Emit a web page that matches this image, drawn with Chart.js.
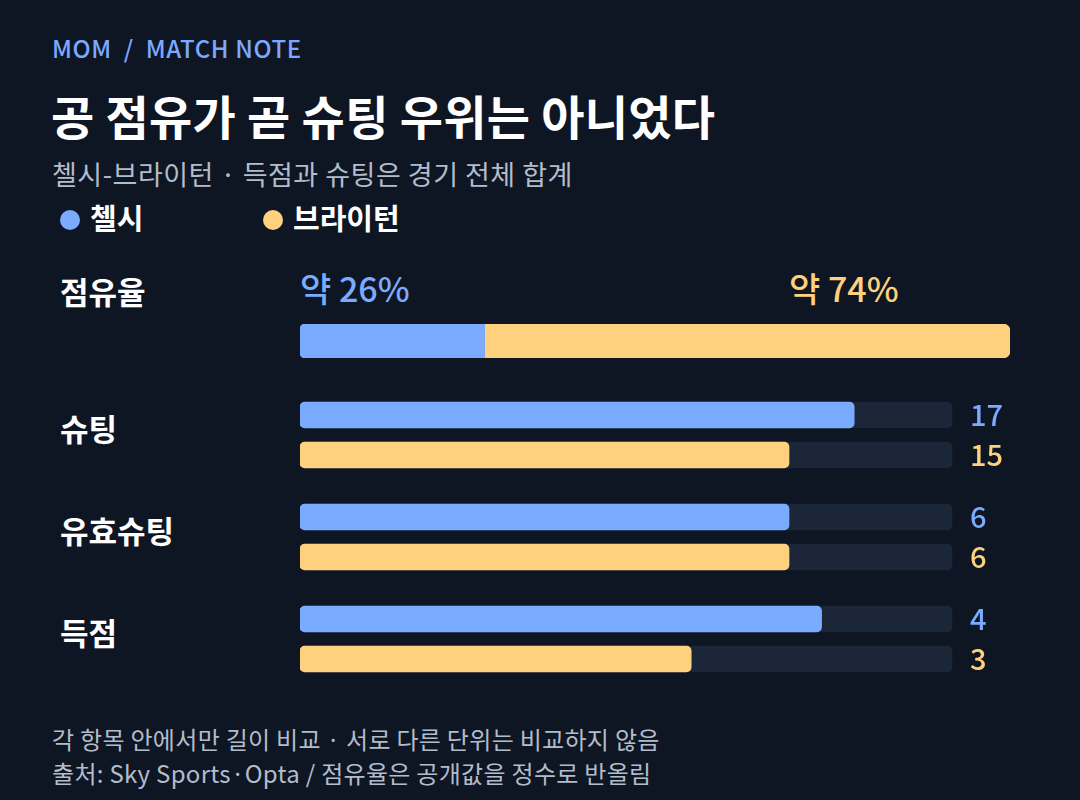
<!DOCTYPE html>
<html>
<head>
<meta charset="utf-8">
<script src="https://cdn.jsdelivr.net/npm/chart.js@4"></script>
<style>
  body { margin: 0; background: #0f1623; font-family: "Noto Sans CJK KR", "Noto Sans", sans-serif; }
  #wrap { position: relative; width: 1080px; height: 800px; overflow: hidden; }
  .t { position: absolute; white-space: nowrap; line-height: 1; }
  canvas { position: absolute; }
</style>
</head>
<body>
<div id="wrap">
  <div class="t" style="left:52px;top:36px;font-size:24px;font-weight:500;letter-spacing:0.6px;color:#7aa9ff;">MOM &nbsp;/&nbsp; MATCH NOTE</div>
  <div class="t" style="left:51px;top:91px;font-size:47px;font-weight:700;letter-spacing:0.3px;color:#fff;">공 점유가 곧 슈팅 우위는 아니었다</div>
  <div class="t" style="left:52px;top:160px;font-size:27px;font-weight:400;letter-spacing:0.5px;color:#b3bccb;">첼시-브라이턴 · 득점과 슈팅은 경기 전체 합계</div>
  <div id="legend"></div>
  <div id="labels"></div>
  <canvas id="pos" width="710" height="34" style="left:300px;top:324px;width:710px;height:34px"></canvas>
  <canvas id="m0" width="760" height="80" style="left:300px;top:395px;width:760px;height:80px"></canvas>
  <canvas id="m1" width="760" height="80" style="left:300px;top:497px;width:760px;height:80px"></canvas>
  <canvas id="m2" width="760" height="80" style="left:300px;top:599px;width:760px;height:80px"></canvas>
  <div class="t" style="left:52px;top:727px;font-size:24px;letter-spacing:0.3px;color:#b3bccb;">각 항목 안에서만 길이 비교 · 서로 다른 단위는 비교하지 않음</div>
  <div class="t" style="left:52px;top:761px;font-size:24px;letter-spacing:0.3px;color:#b3bccb;">출처: Sky Sports·Opta / 점유율은 공개값을 정수로 반올림</div>
</div>
<script>
const teams = ["첼시", "브라이턴"];
const possession = [26, 74];
const metrics = ["슈팅", "유효슈팅", "득점"];
const chelsea = [17, 6, 4];
const brighton = [15, 6, 3];
const scaleMax = [20, 8, 5];

const blue = "#7aabff";
const orange = "#ffd07d";
const track = "#1b2638";
const colors = [blue, orange];

const legend = document.getElementById("legend");
teams.forEach((name, i) => {
  legend.innerHTML += `<div class="t" style="left:${60 + i * 203}px;top:203px;font-size:29px;font-weight:700;color:#fff;">
    <span style="display:inline-block;width:20px;height:20px;border-radius:50%;background:${colors[i]};margin-right:10px;vertical-align:0px"></span>${name}</div>`;
});

const labels = document.getElementById("labels");
labels.innerHTML += `<div class="t" style="left:60px;top:275px;font-size:31px;font-weight:700;color:#fff;">점유율</div>`;
labels.innerHTML += `<div class="t" style="left:300px;top:271px;font-size:34px;font-weight:500;color:${blue};">약 ${possession[0]}%</div>`;
labels.innerHTML += `<div class="t" style="left:789px;top:271px;font-size:34px;font-weight:500;color:${orange};">약 ${possession[1]}%</div>`;
metrics.forEach((m, i) => {
  labels.innerHTML += `<div class="t" style="left:60px;top:${412 + i * 102}px;font-size:31px;font-weight:700;color:#fff;">${m}</div>`;
});

const base = {
  indexAxis: "y",
  responsive: false,
  animation: false,
  layout: { padding: 0 },
  plugins: { legend: { display: false }, tooltip: { enabled: false } },
};

new Chart(document.getElementById("pos"), {
  type: "bar",
  data: {
    labels: ["점유율"],
    datasets: teams.map((t, i) => ({
      label: t,
      data: [possession[i]],
      backgroundColor: colors[i],
      barThickness: 34,
      borderSkipped: false,
      borderRadius: i === 0
        ? { topLeft: 5, bottomLeft: 5, topRight: 0, bottomRight: 0 }
        : { topLeft: 0, bottomLeft: 0, topRight: 7, bottomRight: 7 },
    })),
  },
  options: {
    ...base,
    scales: {
      x: { display: false, stacked: true, min: 0, max: 100 },
      y: { display: false, stacked: true },
    },
  },
});

const valueLabels = {
  id: "valueLabels",
  afterDatasetsDraw(chart) {
    const ctx = chart.ctx;
    const meta = chart.getDatasetMeta(0);
    const x = chart.scales.x.getPixelForValue(1) + 18;
    ctx.save();
    ctx.font = "500 29px 'Noto Sans CJK KR', sans-serif";
    ctx.textBaseline = "middle";
    meta.data.forEach((bar, j) => {
      ctx.fillStyle = colors[j];
      ctx.fillText(chart.data.datasets[0].raw[j], x, bar.y);
    });
    ctx.restore();
  },
};

metrics.forEach((m, i) => {
  const raw = [chelsea[i], brighton[i]];
  new Chart(document.getElementById("m" + i), {
    type: "bar",
    data: {
      labels: teams,
      datasets: [
        {
          raw: raw,
          data: raw.map((v) => v / scaleMax[i]),
          backgroundColor: colors,
          barThickness: 26,
          grouped: false,
          order: 0,
          borderRadius: 5,
          borderSkipped: false,
        },
        {
          data: [1, 1],
          backgroundColor: track,
          barThickness: 26,
          grouped: false,
          order: 1,
          borderRadius: 5,
          borderSkipped: false,
        },
      ],
    },
    options: {
      ...base,
      scales: {
        x: { display: false, min: 0, max: 760 / 652 },
        y: { display: false },
      },
    },
    plugins: [valueLabels],
  });
});
</script>
</body>
</html>
